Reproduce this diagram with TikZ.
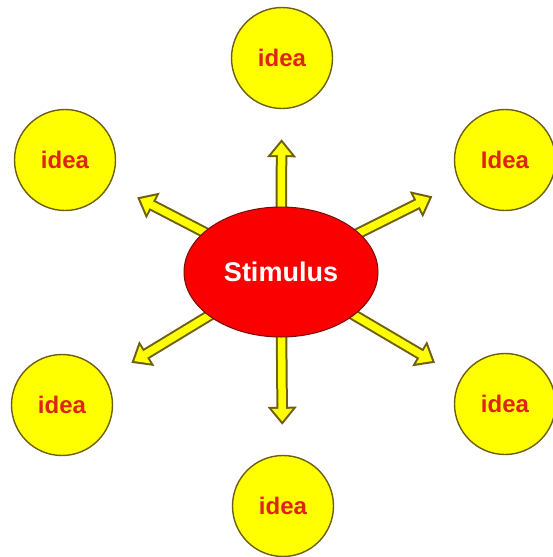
\documentclass[tikz,border=0pt]{standalone}
\usepackage{fontspec}
\setmainfont{Liberation Sans}
\usetikzlibrary{arrows.meta, shapes.geometric, backgrounds}
\definecolor{ideayellow}{RGB}{255,255,0}
\definecolor{idearim}{RGB}{110,95,20}
\definecolor{ideared}{RGB}{222,36,18}
\definecolor{stimred}{RGB}{250,0,0}
\definecolor{stimrim}{RGB}{120,10,10}

\begin{document}
\begin{tikzpicture}[
  x=1pt, y=-1pt,
  idea/.style={circle, draw=idearim, line width=1.4pt, fill=ideayellow, minimum size=101pt,
               inner sep=0pt, text=ideared, font=\fontsize{24}{24}\selectfont\bfseries},
  stim/.style={ellipse, draw=stimrim, line width=1pt, fill=stimred, minimum width=194pt,
               minimum height=130pt, inner sep=0pt, text=white, font=\fontsize{27}{27}\selectfont\bfseries},
  rim/.style={line width=11.5pt, draw=idearim, -{Triangle[length=18pt, width=28pt]},
              shorten >=30pt, shorten <=-12pt},
  core/.style={line width=7.5pt, draw=ideayellow, -{Triangle[length=12.7pt, width=19.8pt]},
               shorten >=33.3pt, shorten <=-12pt}
]
  \useasboundingbox (0,0) rectangle (553,557);

  % ---- centre ----
  \node[stim] (stim) at (281,272) {Stimulus};

  % ---- ideas round it ----
  \node[idea] (top)    at (282,58)  {idea};
  \node[idea] (topl)   at (65,160)  {idea};
  \node[idea] (topr)   at (505,160) {Idea};
  \node[idea] (botl)   at (62,405)  {idea};
  \node[idea] (botr)   at (505,404) {idea};
  \node[idea] (bot)    at (283,506) {idea};

  % ---- arrows out of the stimulus (behind it) ----
  \begin{pgfonlayer}{background}
    \draw[rim]  (stim) -- (top);
    \draw[core] (stim) -- (top);
    \draw[rim]  (stim) -- (topl);
    \draw[core] (stim) -- (topl);
    \draw[rim]  (stim) -- (topr);
    \draw[core] (stim) -- (topr);
    \draw[rim]  (stim) -- (botl);
    \draw[core] (stim) -- (botl);
    \draw[rim]  (stim) -- (botr);
    \draw[core] (stim) -- (botr);
    \draw[rim]  (stim) -- (bot);
    \draw[core] (stim) -- (bot);
  \end{pgfonlayer}
\end{tikzpicture}
\end{document}
